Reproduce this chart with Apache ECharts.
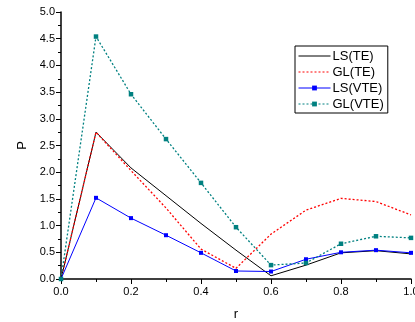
<!DOCTYPE html>
<html>
<head>
<meta charset="utf-8">
<script src="https://cdn.jsdelivr.net/npm/echarts@6/dist/echarts.min.js"></script>
<style>
	html, body { margin: 0; padding: 0; background: #fff; }
	#chart { width: 415px; height: 322px; }
</style>
</head>
<body>
<div id="chart"></div>
<script>
	// values
	var rValues = [0, 0.1, 0.2, 0.3, 0.4, 0.5, 0.6, 0.7, 0.8, 0.9, 1.0];
	var lsTE = [0, 2.75, 2.08, 1.56, 1.04, 0.54, 0.06, 0.26, 0.49, 0.53, 0.47];
	var glTE = [0, 2.75, 2.03, 1.33, 0.56, 0.2, 0.84, 1.29, 1.51, 1.45, 1.2];
	var lsVTE = [0, 1.52, 1.14, 0.82, 0.49, 0.15, 0.14, 0.37, 0.5, 0.54, 0.49];
	var glVTE = [0, 4.54, 3.46, 2.62, 1.8, 0.97, 0.26, 0.3, 0.66, 0.8, 0.77];
	var seriesNames = ["LS(TE)", "GL(TE)", "LS(VTE)", "GL(VTE)"];

	function pairs(values){
		return rValues.map(function(r, i){ return [r, values[i]]; });
	}

	var font = "Liberation Sans, Arial, sans-serif";

	var myChart = echarts.init(document.getElementById("chart"), null, {renderer: "canvas"});
	myChart.setOption({
		animation: false,
		grid: {left: 61, top: 12, right: 4, bottom: 43, outerBoundsMode: "none"},
		legend: {
			orient: "vertical",
			left: 295, top: 46,
			width: 90,
			padding: [3, 4, 2, 3],
			borderColor: "#000", borderWidth: 1,
			itemWidth: 32, itemHeight: 6, itemGap: 2,
			lineStyle: {width: 1},
			textStyle: {fontFamily: font, fontSize: 13, lineHeight: 14, color: "#000", padding: [0, 0, 0, -3]},
			data: [
				// line-only series: hide the marker that the legend would add
				{name: seriesNames[0], itemStyle: {opacity: 0}},
				{name: seriesNames[1], itemStyle: {opacity: 0}},
				{name: seriesNames[2]},
				{name: seriesNames[3]}
			]
		},
		xAxis: {
			type: "value", min: 0, max: 1, interval: 0.2,
			name: "r", nameLocation: "middle", nameGap: 29,
			nameTextStyle: {fontFamily: font, fontSize: 13, color: "#000"},
			axisLine: {lineStyle: {color: "#000", width: 1.5}},
			axisTick: {length: 5, lineStyle: {color: "#000"}},
			minorTick: {show: true, splitNumber: 2, length: 3, lineStyle: {color: "#000"}},
			splitLine: {show: false},
			axisLabel: {fontFamily: font, fontSize: 11, color: "#000", margin: 7,
				formatter: function(v){ return v.toFixed(1); }}
		},
		yAxis: {
			type: "value", min: 0, max: 5, interval: 0.5,
			name: "P", nameLocation: "middle", nameGap: 32, nameRotate: 90,
			nameTextStyle: {fontFamily: font, fontSize: 13, color: "#000"},
			axisLine: {show: true, lineStyle: {color: "#000", width: 1.5}},
			axisTick: {show: true, length: 5, lineStyle: {color: "#000"}},
			minorTick: {show: true, splitNumber: 2, length: 3, lineStyle: {color: "#000"}},
			splitLine: {show: false},
			axisLabel: {fontFamily: font, fontSize: 11, color: "#000", margin: 6,
				formatter: function(v){ return v.toFixed(1); }}
		},
		series: [
			{
				name: seriesNames[0], type: "line", data: pairs(lsTE),
				symbol: "none", color: "#000",
				lineStyle: {color: "#000", width: 1}
			},
			{
				name: seriesNames[1], type: "line", data: pairs(glTE),
				symbol: "none", color: "#ff0000",
				lineStyle: {color: "#ff0000", width: 1.3, type: [2, 2]}
			},
			{
				name: seriesNames[2], type: "line", data: pairs(lsVTE),
				symbol: "rect", symbolSize: 4, color: "#0000ff",
				itemStyle: {color: "#0000ff"},
				lineStyle: {color: "#0000ff", width: 1}
			},
			{
				name: seriesNames[3], type: "line", data: pairs(glVTE),
				symbol: "rect", symbolSize: 4.5, color: "#008080",
				itemStyle: {color: "#008080"},
				lineStyle: {color: "#008080", width: 1.3, type: [2, 2]}
			}
		]
	});
</script>
</body>
</html>
